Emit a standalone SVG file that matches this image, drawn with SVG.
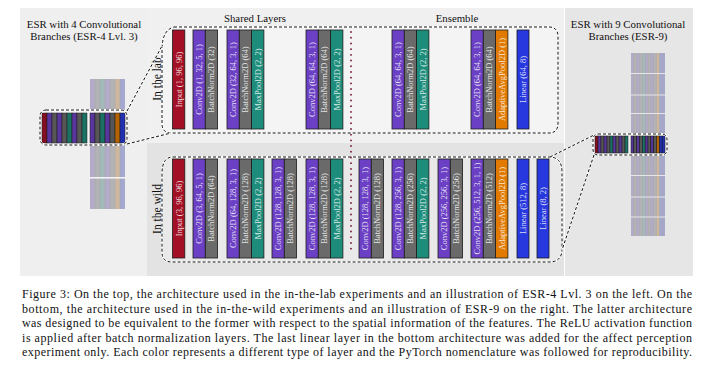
<svg xmlns="http://www.w3.org/2000/svg" width="710" height="371" viewBox="0 0 710 371">
<style>
.bar{stroke:#1c1c1c;stroke-width:0.8}
.in{fill:#a30f24}.cv{fill:#6b40c4}.bn{fill:#6a6a6a}.mp{fill:#1d8c7a}.ap{fill:#e27a00}.li{fill:#2638de}
.lbl{font-family:"Liberation Serif","Times New Roman",serif;font-size:8.5px;fill:#ffffff;fill-opacity:0.85;text-anchor:middle;dominant-baseline:central}
.ttl{font-family:"Liberation Serif","Times New Roman",serif;font-size:10.8px;fill:#111;text-anchor:middle}
.side{font-family:"Liberation Serif","Times New Roman",serif;font-size:11.5px;fill:#111;text-anchor:middle}
.cap{font-family:"Liberation Serif","Times New Roman",serif;font-size:12px;fill:#111}
.halo{fill:none;stroke:#ffffff;stroke-width:1.8}
.dash{fill:none;stroke:#111;stroke-width:1;stroke-dasharray:3 2}
.st{stroke:#1a1a1a;stroke-width:0.5;fill-opacity:0.78}
.fs{stroke:#adadb2;stroke-width:0.5;fill-opacity:0.22}
</style>
<defs>
<pattern id="fade4" patternUnits="userSpaceOnUse" x="90" y="0" width="35" height="371">
<rect width="35" height="371" fill="#c8c8cc"/>
<rect x="0" width="5" height="371" class="cv fs"/>
<rect x="5" width="5" height="371" class="bn fs"/>
<rect x="10" width="5" height="371" class="mp fs"/>
<rect x="15" width="5" height="371" class="cv fs"/>
<rect x="20" width="5" height="371" class="bn fs"/>
<rect x="25" width="5" height="371" class="ap fs"/>
<rect x="30" width="5" height="371" class="li fs"/>
</pattern>
<pattern id="fade9" patternUnits="userSpaceOnUse" x="631" y="0" width="34" height="371">
<rect width="34" height="371" fill="#c8c8cc"/>
<rect x="0" width="2.83" height="371" class="cv fs"/>
<rect x="2.83" width="2.83" height="371" class="bn fs"/>
<rect x="5.67" width="2.83" height="371" class="cv fs"/>
<rect x="8.5" width="2.83" height="371" class="bn fs"/>
<rect x="11.33" width="2.83" height="371" class="mp fs"/>
<rect x="14.17" width="2.83" height="371" class="cv fs"/>
<rect x="17" width="2.83" height="371" class="bn fs"/>
<rect x="19.83" width="2.83" height="371" class="cv fs"/>
<rect x="22.67" width="2.83" height="371" class="bn fs"/>
<rect x="25.5" width="2.83" height="371" class="ap fs"/>
<rect x="28.33" width="2.83" height="371" class="li fs"/>
<rect x="31.17" width="2.83" height="371" class="li fs"/>
</pattern>
</defs>
<rect width="710" height="371" fill="#ffffff"/>
<!-- panels -->
<rect x="20" y="8" width="127" height="268" fill="#efefef"/>
<rect x="147" y="8" width="417" height="135" fill="#f0f0f0"/>
<rect x="147" y="143" width="417" height="133" fill="#e3e3e3"/>
<rect x="565" y="8" width="128" height="268" fill="#e6e6e6"/>

<!-- titles -->
<g id="title-esr4">
<text class="ttl" x="84" y="27.5">ESR with 4 Convolutional</text>
<text class="ttl" x="84" y="39.5">Branches (ESR-4 Lvl. 3)</text>
</g>
<g id="title-esr9">
<text class="ttl" x="628" y="28">ESR with 9 Convolutional</text>
<text class="ttl" x="628" y="40">Branches (ESR-9)</text>
</g>
<text class="ttl" x="255" y="21.5" font-size="11px">Shared Layers</text>
<text class="ttl" x="457" y="21.5" font-size="11px">Ensemble</text>

<!-- container boxes -->
<g id="lab-box">
<path class="halo" d="M174,27 H549 Q558,27 558,37 V123 Q558,133 549,133 H172 Q162,133 162,124 V50 Q162,30 174,27 Z" style="fill:#f4f4f4"/>
<path class="dash" d="M174,27 H549 Q558,27 558,37 V123 Q558,133 549,133 H172 Q162,133 162,124 V50 Q162,30 174,27 Z"/>
<text class="side" transform="translate(160.5,79) rotate(-90)">In the lab</text>
</g>
<g id="wild-box">
<path class="halo" d="M173,157 H549 Q562,157 562,172 V249 Q562,262 549,262 H172 Q162,262 162,252 V174 Q162,157 173,157 Z" style="fill:#e9e9e9"/>
<path class="dash" d="M173,157 H549 Q562,157 562,172 V249 Q562,262 549,262 H172 Q162,262 162,252 V174 Q162,157 173,157 Z"/>
<text class="side" transform="translate(160.5,209) rotate(-90)">In the wild</text>
</g>

<!-- divider -->
<line x1="351" y1="32" x2="351" y2="254" stroke="#7a1632" stroke-width="1.8" stroke-dasharray="0.1 5.6" stroke-linecap="round"/>

<!-- lab row -->
<g id="lab-input"><rect class="bar in" x="172.5" y="30" width="12.3" height="99"/><text class="lbl" transform="translate(178.65,79.5) rotate(-90)">Input (1, 96, 96)</text></g>
<g id="lab-conv1"><rect class="bar cv" x="193" y="30" width="12.3" height="99"/><text class="lbl" transform="translate(199.15,79.5) rotate(-90)">Conv2D (1, 32, 5, 1)</text></g>
<g id="lab-bn1"><rect class="bar bn" x="205.3" y="30" width="12.3" height="99"/><text class="lbl" transform="translate(211.45,79.5) rotate(-90)">BatchNorm2D (32)</text></g>
<g id="lab-conv2"><rect class="bar cv" x="227" y="30" width="12.3" height="99"/><text class="lbl" transform="translate(233.15,79.5) rotate(-90)">Conv2D (32, 64, 3, 1)</text></g>
<g id="lab-bn2"><rect class="bar bn" x="239.3" y="30" width="12.3" height="99"/><text class="lbl" transform="translate(245.45,79.5) rotate(-90)">BatchNorm2D (64)</text></g>
<g id="lab-pool1"><rect class="bar mp" x="251.6" y="30" width="12.3" height="99"/><text class="lbl" transform="translate(257.75,79.5) rotate(-90)">MaxPool2D (2, 2)</text></g>
<g id="lab-conv3"><rect class="bar cv" x="306" y="30" width="12.3" height="99"/><text class="lbl" transform="translate(312.15,79.5) rotate(-90)">Conv2D (64, 64, 3, 1)</text></g>
<g id="lab-bn3"><rect class="bar bn" x="318.3" y="30" width="12.3" height="99"/><text class="lbl" transform="translate(324.45,79.5) rotate(-90)">BatchNorm2D (64)</text></g>
<g id="lab-pool2"><rect class="bar mp" x="330.6" y="30" width="12.3" height="99"/><text class="lbl" transform="translate(336.75,79.5) rotate(-90)">MaxPool2D (2, 2)</text></g>
<g id="lab-conv4"><rect class="bar cv" x="392" y="30" width="12.3" height="99"/><text class="lbl" transform="translate(398.15,79.5) rotate(-90)">Conv2D (64, 64, 3, 1)</text></g>
<g id="lab-bn4"><rect class="bar bn" x="404.3" y="30" width="12.3" height="99"/><text class="lbl" transform="translate(410.45,79.5) rotate(-90)">BatchNorm2D (64)</text></g>
<g id="lab-pool3"><rect class="bar mp" x="416.6" y="30" width="12.3" height="99"/><text class="lbl" transform="translate(422.75,79.5) rotate(-90)">MaxPool2D (2, 2)</text></g>
<g id="lab-conv5"><rect class="bar cv" x="471" y="30" width="12.3" height="99"/><text class="lbl" transform="translate(477.15,79.5) rotate(-90)">Conv2D (64, 64, 3, 1)</text></g>
<g id="lab-bn5"><rect class="bar bn" x="483.3" y="30" width="12.3" height="99"/><text class="lbl" transform="translate(489.45,79.5) rotate(-90)">BatchNorm2D (64)</text></g>
<g id="lab-avgpool"><rect class="bar ap" x="495.6" y="30" width="12.3" height="99"/><text class="lbl" transform="translate(501.75,79.5) rotate(-90)">AdaptiveAvgPool2D (1)</text></g>
<g id="lab-linear"><rect class="bar li" x="517" y="30" width="12" height="99"/><text class="lbl" transform="translate(523,79.5) rotate(-90)">Linear (64, 8)</text></g>

<!-- wild row -->
<g id="wild-input"><rect class="bar in" x="172.5" y="159" width="12.3" height="99"/><text class="lbl" transform="translate(178.65,208.5) rotate(-90)">Input (3, 96, 96)</text></g>
<g id="wild-conv1"><rect class="bar cv" x="193" y="159" width="12.3" height="99"/><text class="lbl" transform="translate(199.15,208.5) rotate(-90)">Conv2D (3, 64, 5, 1)</text></g>
<g id="wild-bn1"><rect class="bar bn" x="205.3" y="159" width="12.3" height="99"/><text class="lbl" transform="translate(211.45,208.5) rotate(-90)">BatchNorm2D (64)</text></g>
<g id="wild-conv2"><rect class="bar cv" x="227" y="159" width="12.3" height="99"/><text class="lbl" transform="translate(233.15,208.5) rotate(-90)">Conv2D (64, 128, 3, 1)</text></g>
<g id="wild-bn2"><rect class="bar bn" x="239.3" y="159" width="12.3" height="99"/><text class="lbl" transform="translate(245.45,208.5) rotate(-90)">BatchNorm2D (128)</text></g>
<g id="wild-pool1"><rect class="bar mp" x="251.6" y="159" width="12.3" height="99"/><text class="lbl" transform="translate(257.75,208.5) rotate(-90)">MaxPool2D (2, 2)</text></g>
<g id="wild-conv3"><rect class="bar cv" x="272" y="159" width="12.3" height="99"/><text class="lbl" transform="translate(278.15,208.5) rotate(-90)">Conv2D (128, 128, 3, 1)</text></g>
<g id="wild-bn3"><rect class="bar bn" x="284.3" y="159" width="12.3" height="99"/><text class="lbl" transform="translate(290.45,208.5) rotate(-90)">BatchNorm2D (128)</text></g>
<g id="wild-conv4"><rect class="bar cv" x="306" y="159" width="12.3" height="99"/><text class="lbl" transform="translate(312.15,208.5) rotate(-90)">Conv2D (128, 128, 3, 1)</text></g>
<g id="wild-bn4"><rect class="bar bn" x="318.3" y="159" width="12.3" height="99"/><text class="lbl" transform="translate(324.45,208.5) rotate(-90)">BatchNorm2D (128)</text></g>
<g id="wild-pool2"><rect class="bar mp" x="330.6" y="159" width="12.3" height="99"/><text class="lbl" transform="translate(336.75,208.5) rotate(-90)">MaxPool2D (2, 2)</text></g>
<g id="wild-conv5"><rect class="bar cv" x="359" y="159" width="12.3" height="99"/><text class="lbl" transform="translate(365.15,208.5) rotate(-90)">Conv2D (128, 128, 3, 1)</text></g>
<g id="wild-bn5"><rect class="bar bn" x="371.3" y="159" width="12.3" height="99"/><text class="lbl" transform="translate(377.45,208.5) rotate(-90)">BatchNorm2D (128)</text></g>
<g id="wild-conv6"><rect class="bar cv" x="392" y="159" width="12.3" height="99"/><text class="lbl" transform="translate(398.15,208.5) rotate(-90)">Conv2D (128, 256, 3, 1)</text></g>
<g id="wild-bn6"><rect class="bar bn" x="404.3" y="159" width="12.3" height="99"/><text class="lbl" transform="translate(410.45,208.5) rotate(-90)">BatchNorm2D (256)</text></g>
<g id="wild-pool3"><rect class="bar mp" x="416.6" y="159" width="12.3" height="99"/><text class="lbl" transform="translate(422.75,208.5) rotate(-90)">MaxPool2D (2, 2)</text></g>
<g id="wild-conv7"><rect class="bar cv" x="438" y="159" width="12.3" height="99"/><text class="lbl" transform="translate(444.15,208.5) rotate(-90)">Conv2D (256, 256, 3, 1)</text></g>
<g id="wild-bn7"><rect class="bar bn" x="450.3" y="159" width="12.3" height="99"/><text class="lbl" transform="translate(456.45,208.5) rotate(-90)">BatchNorm2D (256)</text></g>
<g id="wild-conv8"><rect class="bar cv" x="471" y="159" width="12.3" height="99"/><text class="lbl" transform="translate(477.15,208.5) rotate(-90)">Conv2D (256, 512, 3, 1, 1)</text></g>
<g id="wild-bn8"><rect class="bar bn" x="483.3" y="159" width="12.3" height="99"/><text class="lbl" transform="translate(489.45,208.5) rotate(-90)">BatchNorm2D (512)</text></g>
<g id="wild-avgpool"><rect class="bar ap" x="495.6" y="159" width="12.3" height="99"/><text class="lbl" transform="translate(501.75,208.5) rotate(-90)">AdaptiveAvgPool2D (1)</text></g>
<g id="wild-linear1"><rect class="bar li" x="517" y="159" width="12" height="99"/><text class="lbl" transform="translate(523,208.5) rotate(-90)">Linear (512, 8)</text></g>
<g id="wild-linear2"><rect class="bar li" x="537" y="159" width="12" height="99"/><text class="lbl" transform="translate(543,208.5) rotate(-90)">Linear (8, 2)</text></g>

<!-- ESR-4 illustration -->
<g id="esr4">
<rect x="90" y="79" width="35" height="31" fill="url(#fade4)"/>
<rect x="90" y="145" width="35" height="32.5" fill="url(#fade4)"/>
<rect x="90" y="178" width="35" height="31" fill="url(#fade4)"/>
<line x1="90" y1="177.8" x2="125" y2="177.8" stroke="#ffffff" stroke-width="1.2"/>
<rect x="40" y="110" width="87" height="35" rx="6" fill="#f4f4f4"/>
<rect x="42" y="113" width="45" height="30" fill="#151515"/>
<rect x="90" y="113" width="35" height="30" fill="#151515"/>
<rect class="in st" x="42" y="113" width="5" height="30"/>
<rect class="cv st" x="47" y="113" width="5" height="30"/>
<rect class="bn st" x="52" y="113" width="5" height="30"/>
<rect class="cv st" x="57" y="113" width="5" height="30"/>
<rect class="bn st" x="62" y="113" width="5" height="30"/>
<rect class="mp st" x="67" y="113" width="5" height="30"/>
<rect class="cv st" x="72" y="113" width="5" height="30"/>
<rect class="bn st" x="77" y="113" width="5" height="30"/>
<rect class="mp st" x="82" y="113" width="5" height="30"/>
<rect class="cv st" x="90" y="113" width="5" height="30"/>
<rect class="bn st" x="95" y="113" width="5" height="30"/>
<rect class="mp st" x="100" y="113" width="5" height="30"/>
<rect class="cv st" x="105" y="113" width="5" height="30"/>
<rect class="bn st" x="110" y="113" width="5" height="30"/>
<rect class="ap st" x="115" y="113" width="5" height="30"/>
<rect class="li st" x="120" y="113" width="5" height="30"/>
<rect class="halo" x="40" y="110" width="87" height="35" rx="6"/>
<rect class="dash" x="40" y="110" width="87" height="35" rx="6"/>
</g>

<!-- ESR-9 illustration -->
<g id="esr9">
<rect x="631" y="53" width="34" height="20" fill="url(#fade9)"/>
<rect x="631" y="74" width="34" height="20.5" fill="url(#fade9)"/>
<rect x="631" y="95.5" width="34" height="17.5" fill="url(#fade9)"/>
<rect x="631" y="114" width="34" height="20" fill="url(#fade9)"/>
<rect x="631" y="155" width="34" height="20" fill="url(#fade9)"/>
<rect x="631" y="176" width="34" height="20.5" fill="url(#fade9)"/>
<rect x="631" y="197.5" width="34" height="19" fill="url(#fade9)"/>
<rect x="631" y="217.5" width="34" height="18.5" fill="url(#fade9)"/>
<rect x="593" y="134" width="74" height="21" rx="5" fill="#f0f0f0"/>
<rect x="595" y="136" width="33" height="17" fill="#151515"/>
<rect x="631" y="136" width="34" height="17" fill="#151515"/>
<rect class="in st" x="595" y="136" width="3" height="17"/>
<rect class="cv st" x="598" y="136" width="3" height="17"/>
<rect class="bn st" x="601" y="136" width="3" height="17"/>
<rect class="cv st" x="604" y="136" width="3" height="17"/>
<rect class="bn st" x="607" y="136" width="3" height="17"/>
<rect class="mp st" x="610" y="136" width="3" height="17"/>
<rect class="cv st" x="613" y="136" width="3" height="17"/>
<rect class="bn st" x="616" y="136" width="3" height="17"/>
<rect class="cv st" x="619" y="136" width="3" height="17"/>
<rect class="bn st" x="622" y="136" width="3" height="17"/>
<rect class="mp st" x="625" y="136" width="3" height="17"/>
<rect class="cv st" x="631" y="136" width="2.83" height="17"/>
<rect class="bn st" x="633.83" y="136" width="2.83" height="17"/>
<rect class="cv st" x="636.67" y="136" width="2.83" height="17"/>
<rect class="bn st" x="639.5" y="136" width="2.83" height="17"/>
<rect class="mp st" x="642.33" y="136" width="2.83" height="17"/>
<rect class="cv st" x="645.17" y="136" width="2.83" height="17"/>
<rect class="bn st" x="648" y="136" width="2.83" height="17"/>
<rect class="cv st" x="650.83" y="136" width="2.83" height="17"/>
<rect class="bn st" x="653.67" y="136" width="2.83" height="17"/>
<rect class="ap st" x="656.5" y="136" width="2.83" height="17"/>
<rect class="li st" x="659.33" y="136" width="2.83" height="17"/>
<rect class="li st" x="662.17" y="136" width="2.83" height="17"/>
<rect class="halo" x="593" y="134" width="74" height="21" rx="5"/>
<rect class="dash" x="593" y="134" width="74" height="21" rx="5"/>
</g>

<!-- connectors -->
<g id="connectors">
<path class="halo" d="M127,111 L162,46 M127,144 L171,133 M550,157 L594,135 M594,155 L562,250"/>
<path class="dash" d="M127,111 L162,46 M127,144 L171,133 M550,157 L594,135 M594,155 L562,250"/>
</g>

<!-- caption -->
<g id="caption">
<text class="cap" x="22" y="298" textLength="670" lengthAdjust="spacing">Figure 3: On the top, the architecture used in the in-the-lab experiments and an illustration of ESR-4 Lvl. 3 on the left. On the</text>
<text class="cap" x="22" y="312.5" textLength="670" lengthAdjust="spacing">bottom, the architecture used in the in-the-wild experiments and an illustration of ESR-9 on the right. The latter architecture</text>
<text class="cap" x="22" y="327" textLength="670" lengthAdjust="spacing">was designed to be equivalent to the former with respect to the spatial information of the features. The ReLU activation function</text>
<text class="cap" x="22" y="341.5" textLength="670" lengthAdjust="spacing">is applied after batch normalization layers. The last linear layer in the bottom architecture was added for the affect perception</text>
<text class="cap" x="22" y="356" textLength="670" lengthAdjust="spacing">experiment only. Each color represents a different type of layer and the PyTorch nomenclature was followed for reproducibility.</text>
</g>
</svg>
